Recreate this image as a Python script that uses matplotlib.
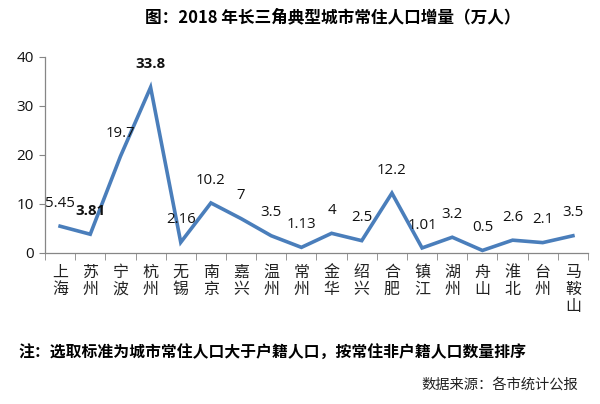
import matplotlib
matplotlib.use("Agg")
import matplotlib.pyplot as plt
import numpy as np

plt.rcParams['font.family'] = ['Open Sans', 'Noto Sans CJK SC', 'DejaVu Sans']

cities = ["上海", "苏州", "宁波", "杭州", "无锡", "南京", "嘉兴", "温州", "常州",
          "金华", "绍兴", "合肥", "镇江", "湖州", "舟山", "淮北", "台州", "马鞍山"]
increase = [5.45, 3.81, 19.7, 33.8, 2.16, 10.2, 7, 3.5, 1.13,
            4, 2.5, 12.2, 1.01, 3.2, 0.5, 2.6, 2.1, 3.5]
label_text = ["5.45", "3.81", "19.7", "33.8", "2.16", "10.2", "7", "3.5", "1.13",
              "4", "2.5", "12.2", "1.01", "3.2", "0.5", "2.6", "2.1", "3.5"]
bold_labels = ["苏州", "杭州"]
y_ticks = [0, 10, 20, 30, 40]

title = "图：2018 年长三角典型城市常住人口增量（万人）"
note = "注：选取标准为城市常住人口大于户籍人口，按常住非户籍人口数量排序"
source = "数据来源：各市统计公报"


def main():
    fig = plt.figure(figsize=(6.0, 4.04), dpi=100)
    fig.patch.set_facecolor("white")
    ax = fig.add_axes([0.075, 0.374, 0.905, 0.485])

    x = np.arange(len(cities))
    ax.plot(x, increase, color="#4A7EBB", linewidth=2.6, solid_joinstyle="miter")

    for xi, v, t, c in zip(x, increase, label_text, cities):
        ax.annotate(t, (xi, v), xytext=(0, 16.5), textcoords="offset points",
                    ha="center", va="center", fontsize=10.8, color="#111111",
                    fontweight="bold" if c in bold_labels else "normal")

    ax.set_xlim(-0.5, len(cities) - 0.5)
    ax.set_ylim(0, 40)
    ax.set_yticks(y_ticks)
    ax.tick_params(axis="y", labelsize=11, length=4, color="#868686", pad=4,
                   labelcolor="#111111")

    ax.set_xticks(x)
    ax.set_xticklabels(["\n".join(c) for c in cities], fontsize=11.5,
                       linespacing=1.0, color="#222222",
                       family=['Noto Sans CJK SC', 'DejaVu Sans'])
    ax.set_xticks(np.arange(-0.5, len(cities), 1.0), minor=True)
    ax.tick_params(axis="x", which="major", length=0, pad=8)
    ax.tick_params(axis="x", which="minor", length=5, color="#868686")

    for s in ["top", "right"]:
        ax.spines[s].set_visible(False)
    for s in ["left", "bottom"]:
        ax.spines[s].set_color("#868686")
        ax.spines[s].set_linewidth(0.9)

    fig.text(0.555, 0.958, title, ha="center", va="center", fontsize=12,
             fontweight="bold", family=['Noto Sans CJK SC', 'DejaVu Sans'])
    fig.text(0.03, 0.126, note, ha="left", va="center", fontsize=11.4,
             fontweight="bold", family=['Noto Sans CJK SC', 'DejaVu Sans'])
    fig.text(0.963, 0.047, source, ha="right", va="center", fontsize=10.3,
             color="#222222", family=['Noto Sans CJK SC', 'DejaVu Sans'])

    fig.savefig("out.png", dpi=100)


if __name__ == "__main__":
    main()
